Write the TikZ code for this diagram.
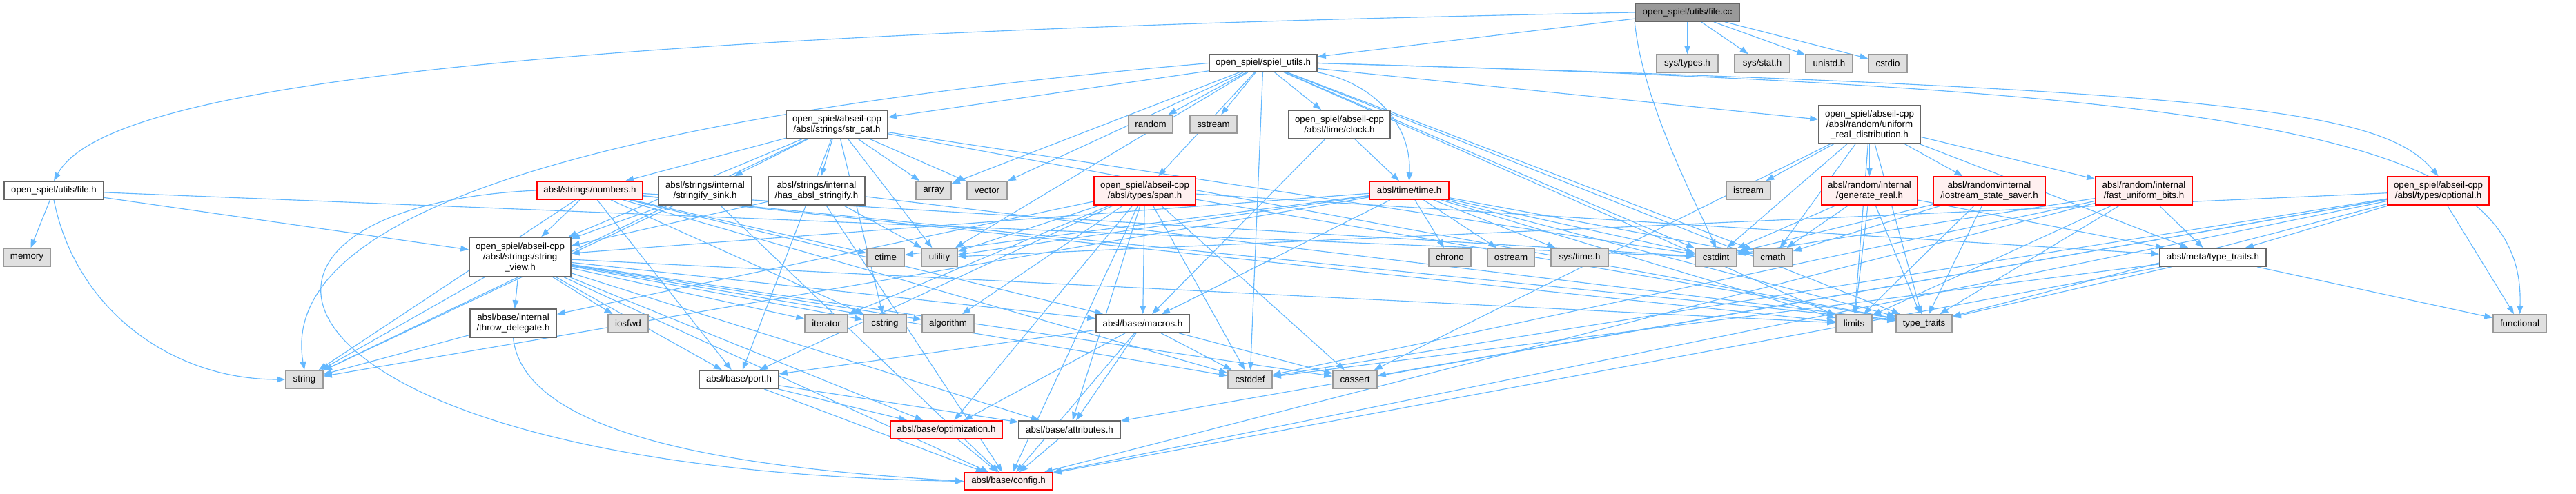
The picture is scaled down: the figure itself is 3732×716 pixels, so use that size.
\documentclass[tikz,border=0pt]{standalone}
\usepackage{fontspec}
\setmainfont{Liberation Sans}
\usetikzlibrary{arrows.meta}
\pgfdeclarelayer{background}
\pgfsetlayers{background,main}
\definecolor{edgeblue}{HTML}{63B8FF}
\definecolor{nborder}{HTML}{666666}
\definecolor{sysfill}{HTML}{E0E0E0}
\definecolor{sysborder}{HTML}{999999}
\definecolor{redfill}{HTML}{FFF0F0}
\definecolor{rootfill}{HTML}{999999}
\tikzset{
 base/.style={draw, line width=1.2pt, inner sep=0pt, align=center, font=\fontsize{10}{11.25}\selectfont, text=black},
 plain/.style={base, draw=nborder, fill=white},
 sys/.style={base, draw=sysborder, fill=sysfill},
 trunc/.style={base, draw=red, fill=redfill},
 root/.style={base, draw=nborder, fill=rootfill},
 edge/.style={draw=edgeblue, line width=0.85pt, -{Triangle[length=9pt,width=6.5pt]}},
}
\newcommand\gnode[7]{\node[#2, minimum width={(#5-#3)*0.75pt}, minimum height={(#6-#4)*0.75pt}] (#1) at ({(#3+#5)/2},{(#4+#6)/2}) {#7};}
\begin{document}
\begin{tikzpicture}[x=0.75pt,y=-0.75pt]
\useasboundingbox (0,0) rectangle (3732,716);
\gnode{filecc}{root}{2369}{5}{2520}{31}{open\_spiel/utils/file.cc}
\gnode{spielutils}{plain}{1752}{79}{1908}{104}{open\_spiel/spiel\_utils.h}
\gnode{systypes}{sys}{2400}{79}{2489}{105}{sys/types.h}
\gnode{sysstat}{sys}{2513}{79}{2593}{105}{sys/stat.h}
\gnode{unistd}{sys}{2616}{79}{2684}{105}{unistd.h}
\gnode{cstdio}{sys}{2707}{79}{2763}{105}{cstdio}
\gnode{fileh}{plain}{6}{263}{150}{289}{open\_spiel/utils/file.h}
\gnode{memory}{sys}{5}{360}{73}{386}{memory}
\gnode{string}{sys}{414}{537}{468}{563}{string}
\gnode{strcat}{plain}{1139}{160}{1286}{201}{open\_spiel/abseil-cpp\\/absl/strings/str\_cat.h}
\gnode{random}{sys}{1635}{167}{1699}{193}{random}
\gnode{sstream}{sys}{1724}{167}{1792}{193}{sstream}
\gnode{clock}{plain}{1867}{160}{2014}{201}{open\_spiel/abseil-cpp\\/absl/time/clock.h}
\gnode{urd}{plain}{2635}{153}{2782}{208}{open\_spiel/abseil-cpp\\/absl/random/uniform\\\_real\_distribution.h}
\gnode{numbers}{trunc}{778}{263}{931}{289}{absl/strings/numbers.h}
\gnode{sink}{plain}{954}{256}{1089}{297}{absl/strings/internal\\/stringify\_sink.h}
\gnode{hasabsl}{plain}{1113}{256}{1253}{297}{absl/strings/internal\\/has\_absl\_stringify.h}
\gnode{array}{sys}{1327}{263}{1378}{289}{array}
\gnode{vector}{sys}{1401}{263}{1459}{289}{vector}
\gnode{span}{trunc}{1585}{256}{1732}{297}{open\_spiel/abseil-cpp\\/absl/types/span.h}
\gnode{time}{trunc}{1984}{263}{2099}{289}{absl/time/time.h}
\gnode{istream}{sys}{2501}{263}{2565}{289}{istream}
\gnode{genreal}{trunc}{2639}{256}{2778}{297}{absl/random/internal\\/generate\_real.h}
\gnode{iss}{trunc}{2801}{256}{2963}{297}{absl/random/internal\\/iostream\_state\_saver.h}
\gnode{fub}{trunc}{3036}{256}{3176}{297}{absl/random/internal\\/fast\_uniform\_bits.h}
\gnode{optional}{trunc}{3459}{256}{3606}{297}{open\_spiel/abseil-cpp\\/absl/types/optional.h}
\gnode{strview}{plain}{680}{344}{827}{401}{open\_spiel/abseil-cpp\\/absl/strings/string\\\_view.h}
\gnode{ctime}{sys}{1256}{360}{1310}{386}{ctime}
\gnode{utility}{sys}{1335}{360}{1387}{386}{utility}
\gnode{chrono}{sys}{2070}{360}{2131}{386}{chrono}
\gnode{ostream}{sys}{2155}{360}{2223}{386}{ostream}
\gnode{systime}{sys}{2247}{360}{2330}{386}{sys/time.h}
\gnode{cstdint}{sys}{2456}{360}{2516}{386}{cstdint}
\gnode{cmath}{sys}{2540}{360}{2597}{386}{cmath}
\gnode{metatt}{plain}{3129}{360}{3283}{386}{absl/meta/type\_traits.h}
\gnode{throwdel}{plain}{681}{448}{806}{489}{absl/base/internal\\/throw\_delegate.h}
\gnode{iosfwd}{sys}{881}{456}{939}{482}{iosfwd}
\gnode{iterator}{sys}{1166}{456}{1228}{482}{iterator}
\gnode{cstring}{sys}{1251}{456}{1313}{482}{cstring}
\gnode{algorithm}{sys}{1336}{456}{1411}{482}{algorithm}
\gnode{macros}{plain}{1588}{456}{1723}{482}{absl/base/macros.h}
\gnode{limits}{sys}{2660}{456}{2712}{482}{limits}
\gnode{typetraits}{sys}{2747}{456}{2828}{482}{type\_traits}
\gnode{functional}{sys}{3612}{456}{3689}{482}{functional}
\gnode{port}{plain}{1013}{537}{1128}{563}{absl/base/port.h}
\gnode{cstddef}{sys}{1779}{537}{1843}{563}{cstddef}
\gnode{cassert}{sys}{1931}{537}{1995}{563}{cassert}
\gnode{optimization}{trunc}{1290}{610}{1452}{636}{absl/base/optimization.h}
\gnode{attributes}{plain}{1476}{610}{1623}{636}{absl/base/attributes.h}
\gnode{config}{trunc}{1397}{685}{1525}{710}{absl/base/config.h}
\begin{pgfonlayer}{background}
\foreach \t in {systypes,sysstat,unistd,cstdio,spielutils} \draw[edge] (filecc) -- (\t);
\draw[edge] (filecc.west) .. controls (700,50) and (150,130) .. (fileh.north);
\draw[edge] (filecc.south west) .. controls (2380,150) and (2460,300) .. (cstdint.north);
\foreach \t in {memory,strview,cstdint} \draw[edge] (fileh) -- (\t);
\draw[edge] (fileh.south) .. controls (110,450) and (250,550) .. (string.west);
\foreach \t in {strcat,random,sstream,array,vector,span,clock,urd,cstddef,cstdint,cmath,limits,typetraits,utility} \draw[edge] (spielutils) -- (\t);
\draw[edge] (spielutils.south east) .. controls (1990,120) and (2045,180) .. (time.north);
\draw[edge] (spielutils.west) .. controls (900,165) and (400,300) .. (string.north);
\draw[edge] (spielutils.east) .. controls (3250,130) and (3450,160) .. (optional.north);
\draw[edge] (spielutils.east) .. controls (3300,130) and (3660,200) .. (functional.north);
\foreach \t in {numbers,sink,hasabsl,array,vector,strview,string,cstdint,cstring,typetraits,utility,port} \draw[edge] (strcat) -- (\t);
\foreach \t in {string,strview,cstddef,cstring,ctime,limits,typetraits,macros,port,cstdint} \draw[edge] (numbers) -- (\t);
\draw[edge] (numbers.west) .. controls (250,300) and (350,680) .. (config.west);
\foreach \t in {string,strview,config} \draw[edge] (sink) -- (\t);
\foreach \t in {typetraits,utility,strview,config} \draw[edge] (hasabsl) -- (\t);
\foreach \t in {algorithm,cassert,cstddef,iterator,typetraits,utility,attributes,macros,optimization,port,config,metatt,throwdel} \draw[edge] (span) -- (\t);
\foreach \t in {chrono,cmath,cstdint,ctime,limits,ostream,string,typetraits,utility,systime,macros,strview} \draw[edge] (time) -- (\t);
\foreach \t in {macros,time} \draw[edge] (clock) -- (\t);
\foreach \t in {istream,genreal,fub,iss,cassert,cmath,cstdint,limits,typetraits,metatt} \draw[edge] (urd) -- (\t);
\foreach \t in {cstdint,cmath,limits,typetraits,metatt} \draw[edge] (genreal) -- (\t);
\foreach \t in {cmath,cstdint,limits,typetraits} \draw[edge] (iss) -- (\t);
\foreach \t in {cstddef,cstdint,limits,typetraits,metatt,config} \draw[edge] (fub) -- (\t);
\foreach \t in {functional,typetraits,utility,cassert,cstddef,attributes,config,metatt} \draw[edge] (optional) -- (\t);
\foreach \t in {cstddef,functional,typetraits,config} \draw[edge] (metatt) -- (\t);
\foreach \t in {algorithm,cassert,cstddef,cstring,iosfwd,iterator,limits,string,config,throwdel,macros,optimization,port,attributes} \draw[edge] (strview) -- (\t);
\draw[edge] (throwdel) -- (string);
\draw[edge] (throwdel.south) .. controls (760,640) and (1100,680) .. (config.west);
\foreach \t in {cassert,cstddef,attributes,config,optimization,port} \draw[edge] (macros) -- (\t);
\foreach \t in {attributes,config,optimization} \draw[edge] (port) -- (\t);
\draw[edge] (optimization) -- (config);
\draw[edge] (attributes) -- (config);
\end{pgfonlayer}
\end{tikzpicture}
\end{document}
